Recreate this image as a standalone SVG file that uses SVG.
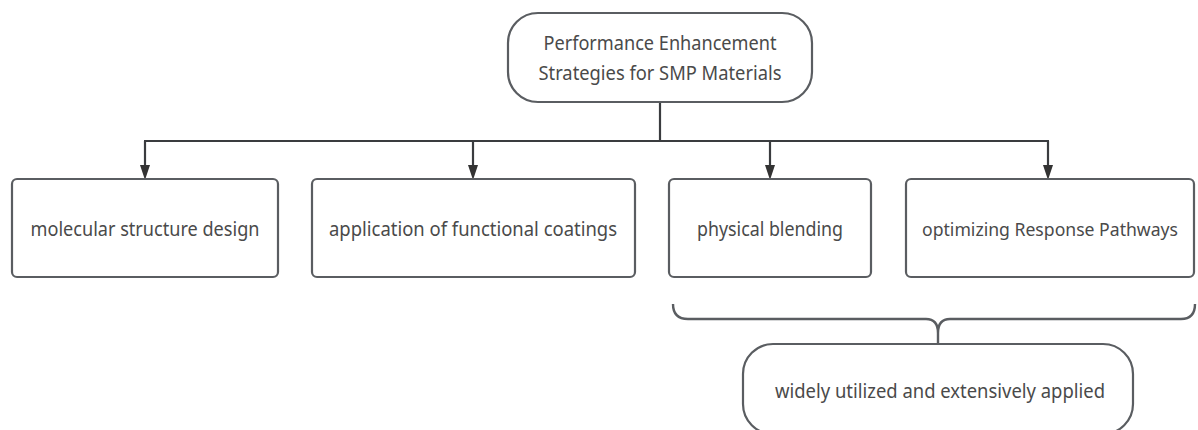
<svg xmlns="http://www.w3.org/2000/svg" width="1198" height="430" viewBox="0 0 1198 430">
  <style>
    .node { fill: #ffffff; stroke: #5a5d61; stroke-width: 2.2; }
    .label { font-family: "Noto Sans", "Open Sans", "Liberation Sans", sans-serif; font-size: 20px; fill: #4a4a4a; text-anchor: middle; }
    .label.tight { font-size: 18.5px; }
    .wire { fill: none; stroke: #3a3c3f; stroke-width: 2.2; }
    .brace { fill: none; stroke: #5a5d61; stroke-width: 2.4; stroke-linejoin: round; }
    .head { fill: #333333; }
  </style>

  <rect width="1198" height="430" fill="#ffffff"/>

  <!-- connectors: trunk, bus and drops to the four strategies, plus the brace -->
  <g id="connectors">
    <line class="wire" x1="660" y1="102" x2="660" y2="141"/>
    <line class="wire" x1="144" y1="141" x2="1049" y2="141"/>
    <line class="wire" x1="145" y1="141" x2="145" y2="166"/>
    <line class="wire" x1="473" y1="141" x2="473" y2="166"/>
    <line class="wire" x1="770" y1="141" x2="770" y2="166"/>
    <line class="wire" x1="1048" y1="141" x2="1048" y2="166"/>
    <path class="head" d="M140,165 L150,165 L145,180 Z"/>
    <path class="head" d="M468,165 L478,165 L473,180 Z"/>
    <path class="head" d="M765,165 L775,165 L770,180 Z"/>
    <path class="head" d="M1043,165 L1053,165 L1048,180 Z"/>
    <path class="brace" d="M673,304 Q673,319 688,319 L926,319 Q938,319 938,333 L938,344 M938,333 Q938,319 950,319 L1181,319 Q1195,319 1195,304"/>
  </g>

  <g id="root">
    <rect class="node" x="508" y="13" width="304" height="89" rx="30" ry="30"/>
    <text class="label" x="660" y="50" textLength="233" lengthAdjust="spacingAndGlyphs">Performance Enhancement</text>
    <text class="label" x="660" y="80" textLength="243" lengthAdjust="spacingAndGlyphs">Strategies for SMP Materials</text>
  </g>

  <g id="molecular-design">
    <rect class="node" x="12" y="179" width="266" height="98" rx="5" ry="5"/>
    <text class="label" x="145" y="236" textLength="229" lengthAdjust="spacingAndGlyphs">molecular structure design</text>
  </g>

  <g id="functional-coatings">
    <rect class="node" x="312" y="179" width="323" height="98" rx="5" ry="5"/>
    <text class="label" x="473" y="236" textLength="288" lengthAdjust="spacingAndGlyphs">application of functional coatings</text>
  </g>

  <g id="physical-blending">
    <rect class="node" x="669" y="179" width="202" height="98" rx="5" ry="5"/>
    <text class="label" x="770" y="236" textLength="146" lengthAdjust="spacingAndGlyphs">physical blending</text>
  </g>

  <g id="response-pathways">
    <rect class="node" x="906" y="179" width="288" height="98" rx="5" ry="5"/>
    <text class="label tight" x="1050" y="236" textLength="256" lengthAdjust="spacingAndGlyphs">optimizing Response Pathways</text>
  </g>

  <g id="widely-applied">
    <rect class="node" x="743" y="344" width="390" height="90" rx="30" ry="30"/>
    <text class="label" x="940" y="398" textLength="330" lengthAdjust="spacingAndGlyphs">widely utilized and extensively applied</text>
  </g>
</svg>
